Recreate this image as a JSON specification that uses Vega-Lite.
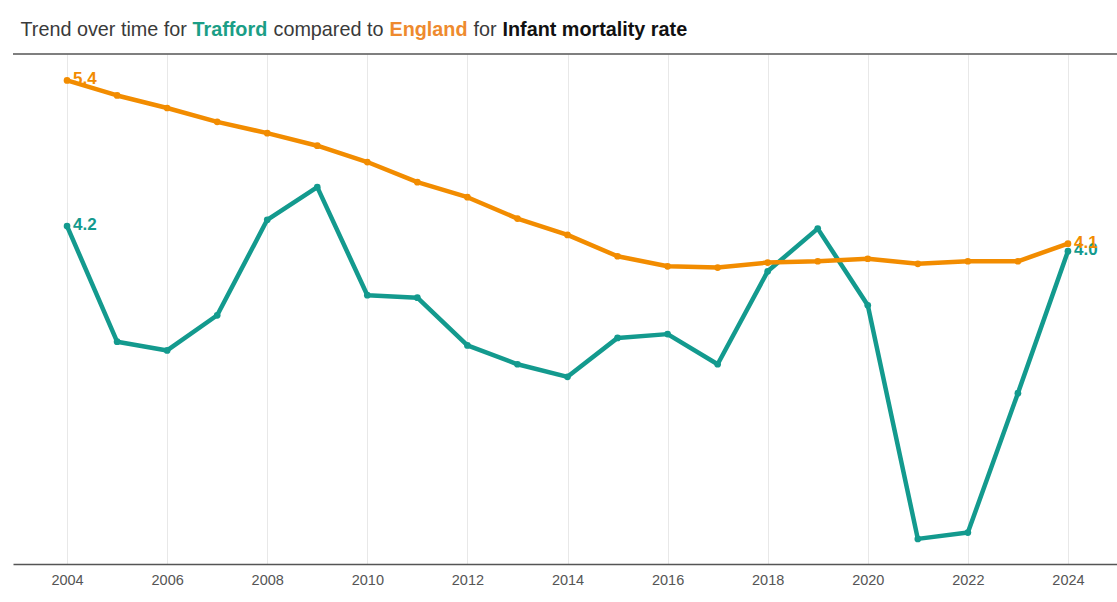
{
  "$schema": "https://vega.github.io/schema/vega-lite/v6.json",
  "background": "white",
  "padding": {"left": 12, "top": 20, "right": 0, "bottom": 0},
  "config": {
    "view": {"stroke": null},
    "font": "Liberation Sans"
  },
  "spacing": 13,
  "vconcat": [
    {
      "spacing": 5,
      "hconcat": [
        {
          "width": 1, "height": 20,
          "data": {"values": [{"seg": "Trend over time for"}]},
          "mark": {"type": "text", "align": "left", "baseline": "middle", "fontSize": 19.8, "color": "#3a3a3a", "dx": 7},
          "encoding": {"text": {"field": "seg"}}
        },
        {
          "width": 1, "height": 20,
          "data": {"values": [{"seg": "Trafford"}]},
          "mark": {"type": "text", "align": "left", "baseline": "middle", "fontSize": 19.8, "fontWeight": "bold", "color": "#1B9E86"},
          "encoding": {"text": {"field": "seg"}}
        },
        {
          "width": 1, "height": 20,
          "data": {"values": [{"seg": "compared to"}]},
          "mark": {"type": "text", "align": "left", "baseline": "middle", "fontSize": 19.8, "color": "#3a3a3a"},
          "encoding": {"text": {"field": "seg"}}
        },
        {
          "width": 1, "height": 20,
          "data": {"values": [{"seg": "England"}]},
          "mark": {"type": "text", "align": "left", "baseline": "middle", "fontSize": 19.8, "fontWeight": "bold", "color": "#EE8A2E"},
          "encoding": {"text": {"field": "seg"}}
        },
        {
          "width": 1, "height": 20,
          "data": {"values": [{"seg": "for"}]},
          "mark": {"type": "text", "align": "left", "baseline": "middle", "fontSize": 19.8, "color": "#3a3a3a"},
          "encoding": {"text": {"field": "seg"}}
        },
        {
          "width": 1, "height": 20,
          "data": {"values": [{"seg": "Infant mortality rate"}]},
          "mark": {"type": "text", "align": "left", "baseline": "middle", "fontSize": 19.8, "fontWeight": "bold", "color": "#111111"},
          "encoding": {"text": {"field": "seg"}}
        }
      ]
    },
    {
      "width": 1105,
      "height": 510,
      "data": {"values": [
        {"year": 2004, "area": "Trafford", "value": 4.24},
        {"year": 2005, "area": "Trafford", "value": 3.32},
        {"year": 2006, "area": "Trafford", "value": 3.25},
        {"year": 2007, "area": "Trafford", "value": 3.53},
        {"year": 2008, "area": "Trafford", "value": 4.29},
        {"year": 2009, "area": "Trafford", "value": 4.55},
        {"year": 2010, "area": "Trafford", "value": 3.69},
        {"year": 2011, "area": "Trafford", "value": 3.67},
        {"year": 2012, "area": "Trafford", "value": 3.29},
        {"year": 2013, "area": "Trafford", "value": 3.14},
        {"year": 2014, "area": "Trafford", "value": 3.04},
        {"year": 2015, "area": "Trafford", "value": 3.35},
        {"year": 2016, "area": "Trafford", "value": 3.38},
        {"year": 2017, "area": "Trafford", "value": 3.14},
        {"year": 2018, "area": "Trafford", "value": 3.88},
        {"year": 2019, "area": "Trafford", "value": 4.22},
        {"year": 2020, "area": "Trafford", "value": 3.61},
        {"year": 2021, "area": "Trafford", "value": 1.75},
        {"year": 2022, "area": "Trafford", "value": 1.80},
        {"year": 2023, "area": "Trafford", "value": 2.91},
        {"year": 2024, "area": "Trafford", "value": 4.04},
        {"year": 2004, "area": "England", "value": 5.40},
        {"year": 2005, "area": "England", "value": 5.28},
        {"year": 2006, "area": "England", "value": 5.18},
        {"year": 2007, "area": "England", "value": 5.07},
        {"year": 2008, "area": "England", "value": 4.98},
        {"year": 2009, "area": "England", "value": 4.88},
        {"year": 2010, "area": "England", "value": 4.75},
        {"year": 2011, "area": "England", "value": 4.59},
        {"year": 2012, "area": "England", "value": 4.47},
        {"year": 2013, "area": "England", "value": 4.30},
        {"year": 2014, "area": "England", "value": 4.17},
        {"year": 2015, "area": "England", "value": 4.00},
        {"year": 2016, "area": "England", "value": 3.92},
        {"year": 2017, "area": "England", "value": 3.91},
        {"year": 2018, "area": "England", "value": 3.95},
        {"year": 2019, "area": "England", "value": 3.96},
        {"year": 2020, "area": "England", "value": 3.98},
        {"year": 2021, "area": "England", "value": 3.94},
        {"year": 2022, "area": "England", "value": 3.96},
        {"year": 2023, "area": "England", "value": 3.96},
        {"year": 2024, "area": "England", "value": 4.10}
      ]},
      "layer": [
        {
          "mark": {"type": "line", "strokeWidth": 4.5, "strokeJoin": "round"},
          "encoding": {
            "x": {
              "field": "year", "type": "quantitative",
              "scale": {"domain": [2002.92, 2025.0], "nice": false, "zero": false},
              "axis": {
                "values": [2004, 2006, 2008, 2010, 2012, 2014, 2016, 2018, 2020, 2022, 2024],
                "format": "d", "title": null, "ticks": false,
                "labelFontSize": 14.5, "labelColor": "#555555", "labelPadding": 9,
                "domainColor": "#555555", "domainWidth": 1.5,
                "grid": true, "gridColor": "#e8e8e8", "gridWidth": 1
              }
            },
            "y": {
              "field": "value", "type": "quantitative",
              "scale": {"domain": [1.55, 5.61], "nice": false, "zero": false},
              "axis": null
            },
            "color": {
              "field": "area", "type": "nominal",
              "scale": {"domain": ["Trafford", "England"], "range": ["#139A8E", "#F28C00"]},
              "legend": null
            },
            "order": {"field": "year"}
          }
        },
        {
          "mark": {"type": "point", "filled": true, "size": 45, "opacity": 1},
          "encoding": {
            "x": {"field": "year", "type": "quantitative"},
            "y": {"field": "value", "type": "quantitative"},
            "color": {"field": "area", "type": "nominal", "legend": null}
          }
        },
        {
          "transform": [{"filter": "datum.year == 2004 || datum.year == 2024"}],
          "mark": {"type": "text", "align": "left", "baseline": "middle", "dx": 6, "dy": -1, "fontSize": 17, "fontWeight": "bold"},
          "encoding": {
            "x": {"field": "year", "type": "quantitative"},
            "y": {"field": "value", "type": "quantitative"},
            "color": {"field": "area", "type": "nominal", "legend": null},
            "text": {"field": "value", "type": "quantitative", "format": ".1f"}
          }
        },
        {
          "data": {"values": [{"edge": "top"}]},
          "mark": {"type": "rule", "color": "#555555", "strokeWidth": 1.5},
          "encoding": {"y": {"datum": 5.61, "type": "quantitative"}}
        }
      ]
    }
  ]
}
